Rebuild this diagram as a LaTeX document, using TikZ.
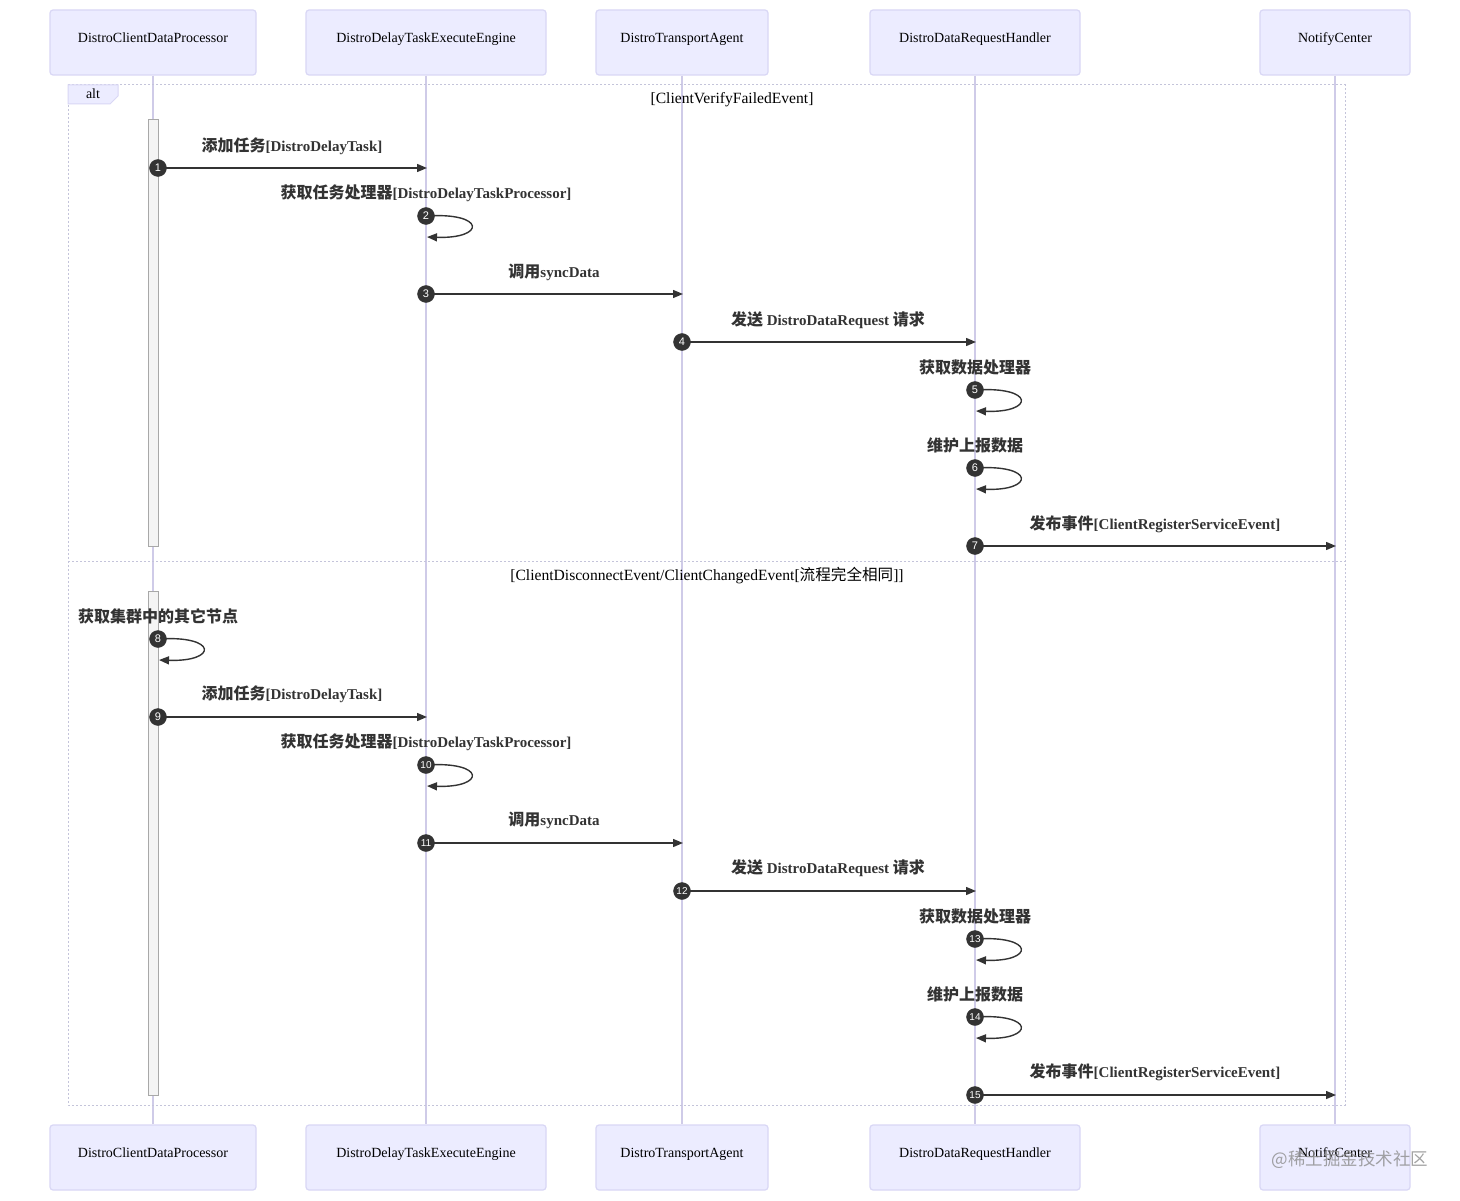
\documentclass[tikz,border=0pt]{standalone}
\usepackage{fontspec}
\setmainfont{Liberation Serif}
\newfontfamily\cjk{Noto Sans CJK SC}
\newfontfamily\badgefont{Liberation Sans}
\usetikzlibrary{arrows.meta}
\definecolor{actfill}{HTML}{ECECFF}
\definecolor{actline}{HTML}{D9D7F5}
\definecolor{life}{HTML}{CFCBE8}
\definecolor{framec}{HTML}{C4C4DA}
\definecolor{ink}{HTML}{333333}
\definecolor{barfill}{HTML}{F4F4F4}
\definecolor{barline}{HTML}{A8A8A8}
\newcommand{\zh}[1]{{\cjk\fontsize{16}{18}\selectfont #1}}
\begin{document}
\begin{tikzpicture}[x=1pt,y=-1pt,
  actor/.style={draw=actline,fill=actfill,rounded corners=3pt,minimum width=#1,minimum height=65pt,
    font=\fontsize{14}{16}\selectfont,line width=1.2pt,inner sep=0pt,text height=10pt,text depth=10pt},
  lifeline/.style={draw=life,line width=1.3pt},
  frameline/.style={draw=framec,line width=1pt,dash pattern=on 2pt off 2pt},
  actbar/.style={draw=barline,fill=barfill,line width=1pt},
  msg/.style={draw=ink,line width=1.4pt,-{Triangle[length=10pt,width=8pt]}},
  badge/.style={circle,fill=ink,draw=ink,minimum size=17pt,inner sep=0pt,text=white,
    font=\badgefont\fontsize{11}{11}\selectfont},
  badgesmall/.style={badge,font=\badgefont\fontsize{10}{10}\selectfont},
  lbl/.style={text=ink,font=\fontsize{15}{18}\selectfont\bfseries,inner sep=0pt},
  sect/.style={text=black,font=\fontsize{15.6}{17}\selectfont,inner sep=0pt}
]
\useasboundingbox (0,0) rectangle (1460,1201);
\fill[white] (0,0) rectangle (1460,1201);

% actors top
\node[actor=206pt] (a1) at (153,42.5) {DistroClientDataProcessor};
\node[actor=240pt] (a2) at (426,42.5) {DistroDelayTaskExecuteEngine};
\node[actor=172pt] (a3) at (682,42.5) {DistroTransportAgent};
\node[actor=210pt] (a4) at (975,42.5) {DistroDataRequestHandler};
\node[actor=150pt] (a5) at (1335,42.5) {NotifyCenter};
% actors bottom
\node[actor=206pt] (z1) at (153,1157.5) {DistroClientDataProcessor};
\node[actor=240pt] (z2) at (426,1157.5) {DistroDelayTaskExecuteEngine};
\node[actor=172pt] (z3) at (682,1157.5) {DistroTransportAgent};
\node[actor=210pt] (z4) at (975,1157.5) {DistroDataRequestHandler};
\node[actor=150pt] (z5) at (1335,1157.5) {NotifyCenter};

% lifelines
\draw[lifeline] (a1.south) -- (z1.north);
\draw[lifeline] (a2.south) -- (z2.north);
\draw[lifeline] (a3.south) -- (z3.north);
\draw[lifeline] (a4.south) -- (z4.north);
\draw[lifeline] (a5.south) -- (z5.north);

% alt frame
\draw[frameline] (68,85) rectangle (1345,1105);
\draw[frameline] (68,561) -- (1345,561);
\filldraw[fill=actfill,draw=actline,line width=1pt] (68,85) -- (118,85) -- (118,96) -- (110,104) -- (68,104) -- cycle;
\node[sect,font=\fontsize{14}{16}\selectfont] (altlbl) at (93,94) {alt};
\node[sect] (sec1) at (732,99.5) {[ClientVerifyFailedEvent]};
\node[sect] (sec2) at (707,575.5) {[ClientDisconnectEvent/ClientChangedEvent[{\cjk\fontsize{15.6}{17}\selectfont 流程完全相同}]]};

% activation bars
\draw[actbar] (148,120) rectangle (158,546);
\draw[actbar] (148,591) rectangle (158,1095);

% ---- first block ----
% 1
\node[lbl] (l1) at (292,146.5) {\zh{添加任务}[DistroDelayTask]};
\coordinate (s1) at (158,168); \coordinate (e1) at (427,168);
\draw[msg] (s1) -- (e1);
\node[badge] (b1) at (s1) {1};
% 2
\node[lbl] (l2) at (426,193.5) {\zh{获取任务处理器}[DistroDelayTaskProcessor]};
\coordinate (s2) at (426,216); \coordinate (e2) at (427,237);
\draw[msg] (s2) .. controls (486,212) and (486,239) .. (e2);
\node[badge] (b2) at (s2) {2};
% 3
\node[lbl] (l3) at (554,272.5) {\zh{调用}syncData};
\coordinate (s3) at (426,294); \coordinate (e3) at (683,294);
\draw[msg] (s3) -- (e3);
\node[badge] (b3) at (s3) {3};
% 4
\node[lbl] (l4) at (828,320.5) {\zh{发送} DistroDataRequest \zh{请求}};
\coordinate (s4) at (682,342); \coordinate (e4) at (976,342);
\draw[msg] (s4) -- (e4);
\node[badge] (b4) at (s4) {4};
% 5
\node[lbl] (l5) at (975,367.5) {\zh{获取数据处理器}};
\coordinate (s5) at (975,390); \coordinate (e5) at (976,411);
\draw[msg] (s5) .. controls (1035,386) and (1035,413) .. (e5);
\node[badge] (b5) at (s5) {5};
% 6
\node[lbl] (l6) at (975,445.5) {\zh{维护上报数据}};
\coordinate (s6) at (975,468); \coordinate (e6) at (976,489);
\draw[msg] (s6) .. controls (1035,464) and (1035,491) .. (e6);
\node[badge] (b6) at (s6) {6};
% 7
\node[lbl] (l7) at (1155,524.5) {\zh{发布事件}[ClientRegisterServiceEvent]};
\coordinate (s7) at (975,546); \coordinate (e7) at (1336,546);
\draw[msg] (s7) -- (e7);
\node[badge] (b7) at (s7) {7};

% ---- second block ----
% 8
\node[lbl] (l8) at (158,616.5) {\zh{获取集群中的其它节点}};
\coordinate (s8) at (158,639); \coordinate (e8) at (159,660);
\draw[msg] (s8) .. controls (218,635) and (218,662) .. (e8);
\node[badge] (b8) at (s8) {8};
% 9
\node[lbl] (l9) at (292,694.5) {\zh{添加任务}[DistroDelayTask]};
\coordinate (s9) at (158,717); \coordinate (e9) at (427,717);
\draw[msg] (s9) -- (e9);
\node[badge] (b9) at (s9) {9};
% 10
\node[lbl] (l10) at (426,742.5) {\zh{获取任务处理器}[DistroDelayTaskProcessor]};
\coordinate (s10) at (426,765); \coordinate (e10) at (427,786);
\draw[msg] (s10) .. controls (486,761) and (486,788) .. (e10);
\node[badgesmall] (b10) at (s10) {10};
% 11
\node[lbl] (l11) at (554,820.5) {\zh{调用}syncData};
\coordinate (s11) at (426,843); \coordinate (e11) at (683,843);
\draw[msg] (s11) -- (e11);
\node[badgesmall] (b11) at (s11) {11};
% 12
\node[lbl] (l12) at (828,868.5) {\zh{发送} DistroDataRequest \zh{请求}};
\coordinate (s12) at (682,891); \coordinate (e12) at (976,891);
\draw[msg] (s12) -- (e12);
\node[badgesmall] (b12) at (s12) {12};
% 13
\node[lbl] (l13) at (975,916.5) {\zh{获取数据处理器}};
\coordinate (s13) at (975,939); \coordinate (e13) at (976,960);
\draw[msg] (s13) .. controls (1035,935) and (1035,962) .. (e13);
\node[badgesmall] (b13) at (s13) {13};
% 14
\node[lbl] (l14) at (975,994.5) {\zh{维护上报数据}};
\coordinate (s14) at (975,1017); \coordinate (e14) at (976,1038);
\draw[msg] (s14) .. controls (1035,1013) and (1035,1040) .. (e14);
\node[badgesmall] (b14) at (s14) {14};
% 15
\node[lbl] (l15) at (1155,1072.5) {\zh{发布事件}[ClientRegisterServiceEvent]};
\coordinate (s15) at (975,1095); \coordinate (e15) at (1336,1095);
\draw[msg] (s15) -- (e15);
\node[badgesmall] (b15) at (s15) {15};

% watermark
\node[text=black!45,opacity=0.8,font=\cjk\fontsize{17.5}{19}\selectfont,inner sep=0pt] (wm) at (1350,1160) {@稀土掘金技术社区};
\end{tikzpicture}
\end{document}
